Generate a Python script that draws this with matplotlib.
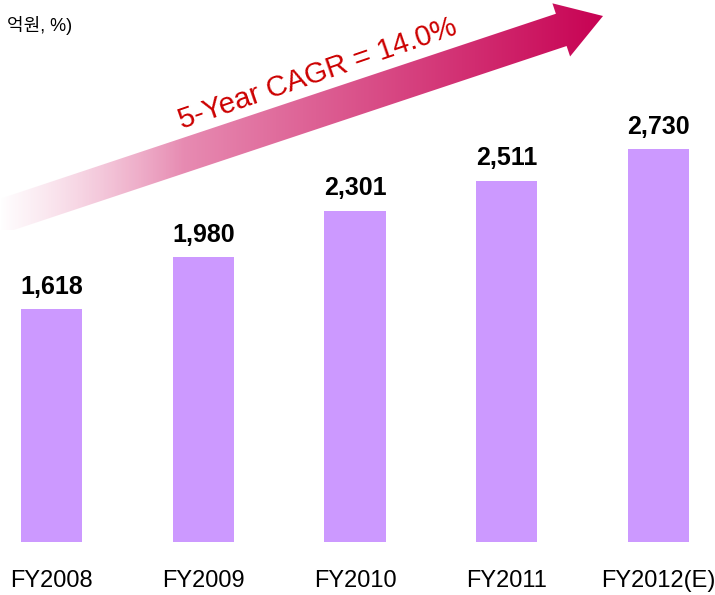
import matplotlib
matplotlib.use('Agg')
import matplotlib.pyplot as plt
import numpy as np
from matplotlib.patches import Polygon

plt.rcParams['font.family'] = ['Liberation Sans', 'Noto Sans CJK KR', 'DejaVu Sans']

# data
years = ['FY2008', 'FY2009', 'FY2010', 'FY2011', 'FY2012(E)']
sales = [1618, 1980, 2301, 2511, 2730]
unit_note = '억원, %)'
cagr_text = '5-Year CAGR = 14.0%'

W, H = 715, 595
fig = plt.figure(figsize=(W / 100, H / 100), dpi=100)

# bar axes: baseline at y=542px, top of max bar at y=149px
ax = fig.add_axes([0, (H - 542) / H, 1, 393 / H])
xpos = np.arange(len(years))
ax.bar(xpos, sales, width=0.402, color='#CC99FF', zorder=2)
ax.set_xlim(-0.339, 4.372)
ax.set_ylim(0, max(sales))
for xi, v in zip(xpos, sales):
    ax.annotate(f'{v:,}', (xi, v), xytext=(0, 11), textcoords='offset points',
                ha='center', va='baseline', fontsize=18, fontweight='bold',
                clip_on=False)
ax.set_xticks(xpos, labels=years, fontsize=17)
ax.tick_params(axis='x', length=0, pad=20)
ax.set_yticks([])
for s in ax.spines.values():
    s.set_visible(False)
ax.patch.set_alpha(0)

# overlay in pixel coords for the gradient arrow
ov = fig.add_axes([0, 0, 1, 1], zorder=1)
ov.set_xlim(0, W)
ov.set_ylim(H, 0)
ov.axis('off')
ov.patch.set_alpha(0)

tail = np.array([-10.0, 220.0])
tip = np.array([603.0, 16.0])
d = tip - tail
L = np.hypot(*d)
u = d / L
v = np.array([u[1], -u[0]])
w, hw, hl = 17, 28, 44
pts_sn = [(0, w), (L - hl, w), (L - hl, hw), (L, 0), (L - hl, -hw), (L - hl, -w), (0, -w)]
pts = [tail + s * u + n * v for s, n in pts_sn]
poly = Polygon(pts, closed=True, facecolor='none', edgecolor='none')
ov.add_patch(poly)

nx = 400
t = np.linspace(0, 1, nx)
c0 = np.array([0.96, 0.78, 0.86])
c1 = np.array([0.78, 0.0, 0.32])
cols = c0[None, :] * (1 - t[:, None]) + c1[None, :] * t[:, None]
alpha = np.clip(t / 0.3, 0, 1) ** 0.8
grad = np.zeros((2, nx, 4))
grad[:, :, :3] = cols
grad[:, :, 3] = alpha
im = ov.imshow(grad, extent=[0, 610, 230, 0], aspect='auto', interpolation='bilinear')
im.set_clip_path(poly)

ov.text(318, 74, cagr_text, rotation=19, rotation_mode='anchor',
        ha='center', va='center', fontsize=21, color='#CC0000')

fig.text(72 / W, 1 - 31 / H, unit_note, ha='right', va='baseline', fontsize=13)

fig.savefig('out.png', dpi=100)
